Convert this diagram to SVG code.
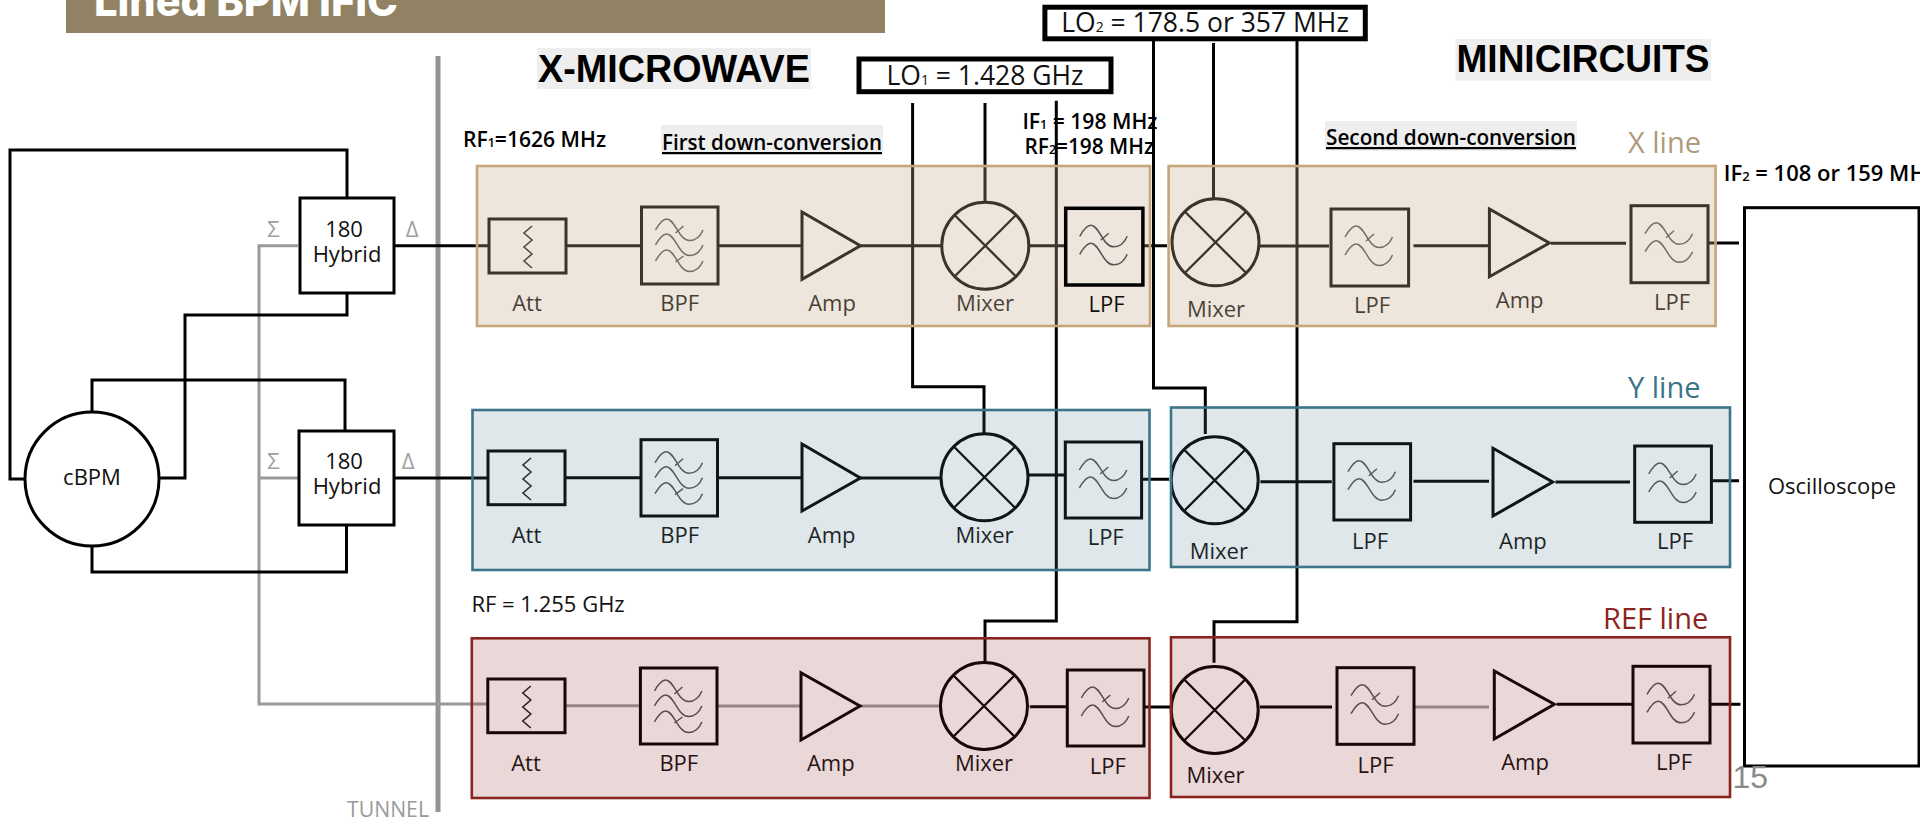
<svg xmlns="http://www.w3.org/2000/svg" xmlns:xlink="http://www.w3.org/1999/xlink" width="1920" height="822" viewBox="0 0 1920 822">
<style>
text{font-family:"Open Sans","Noto Sans","Liberation Sans",sans-serif;font-size:22px;fill:#111}
.c{text-anchor:middle}
.b{fill:none;stroke:#000;stroke-width:3}
.k{fill:none;stroke:#000;stroke-width:3}
.g{fill:none;stroke:#9a9a9a;stroke-width:3}
.wv{fill:none;stroke:#555;stroke-width:1.5}
.zz{fill:none;stroke:#222;stroke-width:1.6}
.mx{fill:none;stroke:#000;stroke-width:3}
.mxl{stroke:#000;stroke-width:2.3}
.sm{font-size:13px}
.bold{font-weight:600;font-size:22px;fill:#000}
.h{font-family:"Liberation Sans",Arial,sans-serif;font-weight:700;font-size:38px;fill:#000}
.bg{fill:#eeeeee}
.sig{fill:#a0a0a0}
.lo{fill:#fff;stroke:#000;stroke-width:5}
.xbox{fill:#c6ac8a;fill-opacity:.3;stroke:#c5a67a;stroke-width:2.6}
.ybox{fill:#537a8b;fill-opacity:.18;stroke:#3c7589;stroke-width:2.6}
.rbox{fill:#8b2420;fill-opacity:.18;stroke:#8b2420;stroke-width:2.6}
</style>
<defs>
<path id="wave" class="wv" d="M0 11C4 4 8 0 11 0C20 0 23 21.5 34 21.5C40 21.5 45 17 47.5 11"/>
<g id="lpfw"><use href="#wave" x="14" y="17"/><use href="#wave" x="14" y="35"/><path class="wv" d="M35 32L43 25"/></g>
<g id="bpfw"><use href="#wave" x="14" y="12"/><use href="#wave" x="14" y="27"/><use href="#wave" x="14" y="43"/><path class="wv" d="M34 26L42 19M34 55L42 49"/></g>
<path id="zig" class="zz" d="M43 7L35 14L43 21L35 28L43 35L35 42L43 49"/>
<g id="mixer"><circle class="mx" r="43.5"/><path class="mxl" d="M-30.5 -30.5L30.5 30.5M-30.5 30.5L30.5 -30.5"/></g>
</defs>

<g id="banner"><rect x="66" y="0" width="819" height="33" fill="#908263"/><text x="94" y="16" textLength="304" lengthAdjust="spacingAndGlyphs" style="font-family:Inter,sans-serif;font-weight:800;font-size:42px;fill:#fff">Lined BPM IFIC</text></g>
<rect id="tunnel-wall" x="435.5" y="56" width="5" height="756" fill="#949494"/>
<text x="347" y="817" textLength="82" lengthAdjust="spacingAndGlyphs" style="fill:#9a9a9a">TUNNEL</text>

<g id="connectors">
<path class="g" d="M298 245.7H259V704H488.6M259 478H299"/>
<path class="k" d="M25 479H10V150H347V198"/>
<path class="k" d="M159 478H185V315H347V293"/>
<path class="k" d="M92 412V380H345V431"/>
<path class="k" d="M92 546V572H346.5V525"/>
<path class="k" d="M394 245.7H489M566 245.7H642M718 245.7H802M860 245.7H942M1029 245.7H1066M1143 245.7H1167M1259 246H1329M1413.5 245.7H1489M1551 243.3H1626M1708 243H1739"/>
<path class="k" d="M394 478H488M565 477.7H641M717.5 477.7H802M860 478H941M1028.6 475H1065M1141.6 479.3H1169M1260.4 481.7H1331.8M1413.5 481.3H1489M1555.5 482H1630M1711 480.7H1739"/>
<path class="g" d="M565 705.7H640M717 706H801M860 706H940M1414 707H1489"/>
<path class="k" d="M1029.8 706.7H1067M1144 707H1170M1260 707H1332M1556.7 704.3H1633M1710 704.3H1740.4"/>
<path class="k" d="M912.6 103V386.7H984V434M985 103V202M1056.3 100.7V621H985V661.7"/>
<path class="k" d="M1153.5 41V388H1205.3V434M1213.5 43V198.7M1297 41V621.7H1214V662.7"/>
</g>

<g id="cBPM"><circle cx="92" cy="479" r="67" fill="#fff" stroke="#000" stroke-width="3"/><text class="c" x="92" y="485">cBPM</text></g>
<g id="hybrid-x"><rect class="b" x="300" y="198" width="94" height="95" style="fill:#fff"/><text class="c" x="344" y="237">180</text><text class="c" x="347" y="262">Hybrid</text><text class="c sig" x="273.5" y="237">Σ</text><text class="c sig" x="412" y="237">Δ</text></g>
<g id="hybrid-y"><rect class="b" x="299" y="431" width="95" height="94" style="fill:#fff"/><text class="c" x="344" y="469">180</text><text class="c" x="347" y="494">Hybrid</text><text class="c sig" x="273.5" y="469">Σ</text><text class="c sig" x="408" y="469">Δ</text></g>
<g id="oscilloscope"><rect class="b" x="1744.5" y="207.7" width="174.5" height="558.3" style="fill:#fff"/><text class="c" x="1832" y="494">Oscilloscope</text></g>

<g id="x-att"><rect class="b" x="489" y="219" width="77" height="54"/><use href="#zig" x="489" y="219"/><text class="c" x="527" y="311">Att</text></g>
<g id="x-bpf"><rect class="b" x="641.5" y="207" width="76.5" height="77"/><use href="#bpfw" x="641.5" y="207"/><text class="c" x="679.6" y="311">BPF</text></g>
<g id="x-amp"><polygon class="b" points="802,212 860.4,245.7 802,279.3"/><text class="c" x="832" y="311">Amp</text></g>
<g id="x-mixer1"><use href="#mixer" x="985.3" y="245.7"/><text class="c" x="985" y="311">Mixer</text></g>
<g id="x-mixer2"><use href="#mixer" x="1215.5" y="242.3"/><text class="c" x="1216" y="317">Mixer</text></g>
<g id="x-lpf2"><rect class="b" x="1331" y="209" width="77.6" height="77"/><use href="#lpfw" x="1331" y="209"/><text class="c" x="1372" y="313">LPF</text></g>
<g id="x-amp2"><polygon class="b" points="1489.4,209 1549.4,243 1489.4,276.7"/><text class="c" x="1519.6" y="308">Amp</text></g>
<g id="x-lpf3"><rect class="b" x="1631" y="205.7" width="77" height="77"/><use href="#lpfw" x="1631" y="205.7"/><text class="c" x="1672" y="310">LPF</text></g>

<g id="y-att"><rect class="b" x="488" y="451" width="77" height="53.7"/><use href="#zig" x="488" y="451"/><text class="c" x="526.5" y="543">Att</text></g>
<g id="y-bpf"><rect class="b" x="641" y="439.7" width="76.5" height="76.3"/><use href="#bpfw" x="641" y="439.7"/><text class="c" x="679.6" y="543">BPF</text></g>
<g id="y-amp"><polygon class="b" points="802,444 860.4,478 802,511"/><text class="c" x="831.6" y="543">Amp</text></g>
<g id="y-mixer1"><use href="#mixer" x="984.5" y="477.3"/><text class="c" x="984.5" y="543">Mixer</text></g>
<g id="y-lpf1"><rect class="b" x="1065.3" y="442" width="76.3" height="76"/><use href="#lpfw" x="1065.3" y="442"/><text class="c" x="1105.7" y="545">LPF</text></g>
<g id="y-mixer2"><use href="#mixer" x="1214.7" y="480.3"/><text class="c" x="1218.8" y="559">Mixer</text></g>
<g id="y-lpf2"><rect class="b" x="1333.9" y="443.7" width="76.7" height="76.3"/><use href="#lpfw" x="1333.9" y="443.7"/><text class="c" x="1370" y="549">LPF</text></g>
<g id="y-amp2"><polygon class="b" points="1493,448.3 1552.7,482 1493,516"/><text class="c" x="1522.9" y="549">Amp</text></g>
<g id="y-lpf3"><rect class="b" x="1634.7" y="446" width="76.7" height="76.3"/><use href="#lpfw" x="1634.7" y="446"/><text class="c" x="1675" y="549">LPF</text></g>

<g id="ref-att"><rect class="b" x="487.8" y="679" width="77.2" height="53.7"/><use href="#zig" x="487.8" y="679"/><text class="c" x="526" y="771">Att</text></g>
<g id="ref-bpf"><rect class="b" x="640.4" y="668" width="76.6" height="76"/><use href="#bpfw" x="640.4" y="668"/><text class="c" x="678.8" y="771">BPF</text></g>
<g id="ref-amp"><polygon class="b" points="801,672.7 860,706 801,740"/><text class="c" x="830.8" y="771">Amp</text></g>
<g id="ref-mixer1"><use href="#mixer" x="984" y="706"/><text class="c" x="984" y="771">Mixer</text></g>
<g id="ref-lpf1"><rect class="b" x="1067.3" y="670" width="76.7" height="76"/><use href="#lpfw" x="1067.3" y="670"/><text class="c" x="1107.8" y="774">LPF</text></g>
<g id="ref-mixer2"><use href="#mixer" x="1214.7" y="710"/><text class="c" x="1215.5" y="783">Mixer</text></g>
<g id="ref-lpf2"><rect class="b" x="1337" y="667.7" width="77" height="76.6"/><use href="#lpfw" x="1337" y="667.7"/><text class="c" x="1375.5" y="773">LPF</text></g>
<g id="ref-amp2"><polygon class="b" points="1494.3,671 1554.3,704.3 1494.3,739"/><text class="c" x="1525" y="770">Amp</text></g>
<g id="ref-lpf3"><rect class="b" x="1633" y="666.3" width="77" height="76.7"/><use href="#lpfw" x="1633" y="666.3"/><text class="c" x="1674" y="770">LPF</text></g>

<g id="line-panels">
<rect class="xbox" x="477" y="166" width="673" height="160"/>
<rect class="xbox" x="1168.6" y="166" width="547" height="160"/>
<rect class="ybox" x="472.5" y="410" width="677" height="160"/>
<rect class="ybox" x="1171" y="407.5" width="559" height="159.5"/>
<rect class="rbox" x="471.8" y="638.3" width="677.7" height="159.7"/>
<rect class="rbox" x="1171" y="637.3" width="559" height="159.7"/>
</g>
<g id="x-lpf1"><rect class="b" x="1065.7" y="208.3" width="77.2" height="76.7" style="stroke-width:3.5"/><use href="#lpfw" x="1065.7" y="208.3"/><text class="c" x="1106.5" y="312">LPF</text></g>

<g id="lo1"><rect class="lo" x="859" y="59" width="252" height="32.7"/><text class="c" x="985" y="85" style="font-size:26.5px">LO<tspan style="font-size:14px">1</tspan> = 1.428 GHz</text></g>
<g id="lo2"><rect class="lo" x="1044.9" y="7.2" width="320.4" height="31.6"/><text class="c" x="1205" y="32" style="font-size:26.5px">LO<tspan style="font-size:14px">2</tspan> = 178.5 or 357 MHz</text></g>

<g id="labels">
<rect class="bg" x="537" y="48" width="274" height="41"/><text class="h" x="538" y="81.7" textLength="272" lengthAdjust="spacingAndGlyphs">X-MICROWAVE</text>
<rect class="bg" x="1455.5" y="39" width="255.5" height="41.7"/><text class="h" x="1456.5" y="71.7" textLength="253" lengthAdjust="spacingAndGlyphs">MINICIRCUITS</text>
<text class="bold" x="463" y="146.7" textLength="143" lengthAdjust="spacingAndGlyphs">RF<tspan class="sm">1</tspan>=1626 MHz</text>
<rect class="bg" x="661" y="125" width="222" height="30"/><text class="bold" x="662" y="150" textLength="220" lengthAdjust="spacingAndGlyphs" text-decoration="underline">First down-conversion</text>
<rect class="bg" x="1325" y="121" width="252" height="29.7"/><text class="bold" x="1326" y="145" textLength="250" lengthAdjust="spacingAndGlyphs" text-decoration="underline">Second down-conversion</text>
<text class="bold" x="1022.4" y="129.3" textLength="135" lengthAdjust="spacingAndGlyphs">IF<tspan class="sm">1</tspan> = 198 MHz</text>
<text class="bold" x="1024.5" y="154.3" textLength="129.5" lengthAdjust="spacingAndGlyphs">RF<tspan class="sm">2</tspan>=198 MHz</text>
<text class="bold" x="1723.7" y="181">IF<tspan class="sm">2</tspan> = 108 or 159 MHz</text>
<text x="471.4" y="612">RF = 1.255 GHz</text>
<text x="1628" y="152.7" style="font-size:29px;fill:#b09a7c">X line</text>
<text x="1628" y="398.3" style="font-size:29px;fill:#3a7488">Y line</text>
<text x="1603" y="629" style="font-size:29px;fill:#8b2420">REF line</text>
<text x="1732.5" y="788" style="font-family:'Liberation Sans',sans-serif;font-size:32px;fill:#8a8a8a">15</text>
</g>
</svg>
